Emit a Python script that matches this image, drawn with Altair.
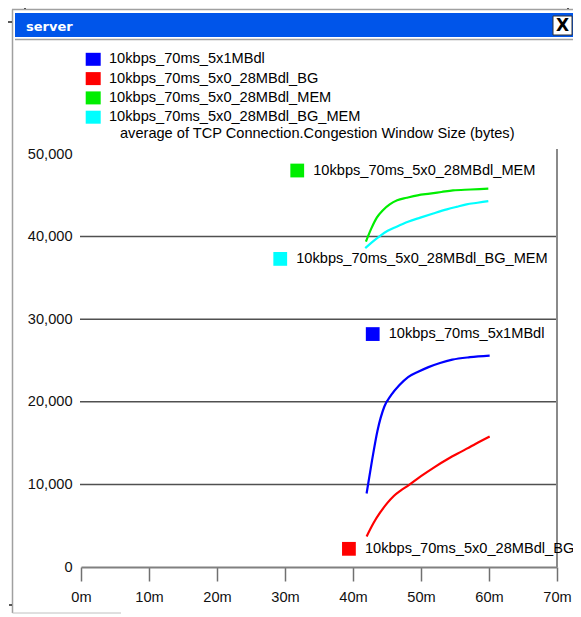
import altair as alt
import pandas as pd

# ---------------- data ----------------
series = [
    "10kbps_70ms_5x1MBdl",
    "10kbps_70ms_5x0_28MBdl_BG",
    "10kbps_70ms_5x0_28MBdl_MEM",
    "10kbps_70ms_5x0_28MBdl_BG_MEM",
]
colors = ["#0000ff", "#ff0000", "#00ee00", "#00ffff"]

blue_t = [42.0, 42.8, 43.6, 44.6, 45.6, 46.8, 48.1, 49.5, 51.1, 52.8, 54.6, 57.2, 60.1]
blue_v = [8900, 12900, 16500, 19400, 20800, 22000, 23000, 23600, 24200, 24700, 25100, 25400, 25600]

red_t = [42.0, 43.0, 44.0, 45.0, 46.0, 47.0, 48.0, 50.0, 52.0, 54.0, 56.0, 58.0, 60.1]
red_v = [3700, 5300, 6600, 7700, 8600, 9250, 9800, 11000, 12100, 13100, 14000, 14900, 15800]

green_t = [41.9, 42.7, 43.5, 44.4, 45.4, 46.5, 47.9, 49.5, 51.3, 53.0, 54.7, 57.3, 59.9]
green_v = [39400, 41000, 42300, 43200, 43900, 44400, 44700, 45000, 45200, 45400, 45600, 45700, 45800]

cyan_t = [41.8, 42.9, 44.0, 45.1, 46.4, 48.1, 49.9, 51.8, 53.8, 55.2, 56.7, 58.3, 59.9]
cyan_v = [38600, 39400, 40100, 40700, 41200, 41800, 42300, 42800, 43300, 43600, 43900, 44100, 44300]

x_ticks = [0, 10, 20, 30, 40, 50, 60, 70]
y_ticks = [0, 10000, 20000, 30000, 40000, 50000]
grid_values = [10000, 20000, 30000, 40000]

# inline label anchors (data coordinates: minutes, bytes)
label_t = [42.9, 39.4, 31.8, 29.3]
label_v = [28200, 2200, 48000, 37300]

window_title = "server"
close_glyph = "X"
y_title = "average of TCP Connection.Congestion Window Size (bytes)"

# ---------------- tables ----------------
frames = []
for name, ts, vs in zip(series, [blue_t, red_t, green_t, cyan_t], [blue_v, red_v, green_v, cyan_v]):
    frames.append(pd.DataFrame({"series": name, "t": ts, "v": vs}))
lines_df = pd.concat(frames, ignore_index=True)
grid_df = pd.DataFrame({"v": grid_values})
labels_df = pd.DataFrame({"series": series, "t": label_t, "v": label_v})
one = pd.DataFrame({"k": [0]})

FONT = "Liberation Sans"
FS = 14.6
W, H = 476, 413

xenc = alt.X(
    "t:Q",
    scale=alt.Scale(domain=[0, 70], nice=False, zero=False),
    axis=alt.Axis(
        values=x_ticks, labelExpr="datum.value + 'm'", grid=False, title=None,
        domainColor="#808080", domainWidth=2, tickColor="#707070", tickWidth=1.5,
        tickSize=14, labelFont=FONT, labelFontSize=FS, labelColor="#111111",
        labelPadding=8, labelFlush=False,
    ),
)
yenc = alt.Y(
    "v:Q",
    scale=alt.Scale(domain=[0, 50000], nice=False),
    axis=alt.Axis(
        values=y_ticks, labelExpr="format(datum.value, ',.0f')", grid=False,
        domain=False, ticks=False, title=None,
        labelFont=FONT, labelFontSize=FS, labelColor="#111111", labelPadding=9,
        labelFlush=False,
    ),
)
cenc = alt.Color("series:N", scale=alt.Scale(domain=series, range=colors), legend=None)

grid = alt.Chart(grid_df).mark_rule(color="#505050", strokeWidth=1.5).encode(
    y=yenc, x=alt.value(-1), x2=alt.value(W)
)
lines = alt.Chart(lines_df).mark_line(strokeWidth=2.2, interpolate="monotone").encode(
    x=xenc, y=yenc, color=cenc, detail="series:N"
)
lab_sq = alt.Chart(labels_df).mark_square(size=190, opacity=1).encode(
    x=xenc, y=yenc, color=cenc
)
lab_tx = alt.Chart(labels_df).mark_text(
    align="left", baseline="middle", dx=16, font=FONT, fontSize=FS, color="#000000"
).encode(x=xenc, y=yenc, text="series:N")

# plot right border
rborder = alt.Chart(one).mark_rule(color="#8a8a8a", strokeWidth=2).encode(
    x=alt.value(W), y=alt.value(-5), y2=alt.value(H)
)

# window chrome (plot-relative pixels; plot origin at page (81,154))
deco = []
deco.append(alt.Chart(one).mark_rect(color="#0055ea").encode(
    x=alt.value(-66), x2=alt.value(500), y=alt.value(-141), y2=alt.value(-117)))
deco.append(alt.Chart(one).mark_rule(color="#a0a0a0", strokeWidth=1.5).encode(
    x=alt.value(-69), x2=alt.value(500), y=alt.value(-144.5)))
deco.append(alt.Chart(one).mark_rule(color="#a0a0a0", strokeWidth=1.5).encode(
    x=alt.value(-66), x2=alt.value(500), y=alt.value(-114.5)))
deco.append(alt.Chart(one).mark_rule(color="#a0a0a0", strokeWidth=1.5).encode(
    x=alt.value(-68.5), y=alt.value(-144.5), y2=alt.value(459)))
deco.append(alt.Chart(one).mark_rule(color="#c0c0c0", strokeWidth=1).encode(
    x=alt.value(-68.5), x2=alt.value(40), y=alt.value(459)))
# little frame ticks
deco.append(alt.Chart(one).mark_rule(color="#222222", strokeWidth=1.5).encode(
    x=alt.value(-56), y=alt.value(-150), y2=alt.value(-145)))
deco.append(alt.Chart(one).mark_rule(color="#222222", strokeWidth=1.5).encode(
    x=alt.value(487), y=alt.value(-150), y2=alt.value(-145)))
deco.append(alt.Chart(one).mark_rule(color="#222222", strokeWidth=1.5).encode(
    x=alt.value(-73), x2=alt.value(-69), y=alt.value(-132)))
deco.append(alt.Chart(one).mark_rule(color="#222222", strokeWidth=1.5).encode(
    x=alt.value(-72), x2=alt.value(-69), y=alt.value(451)))
# close button
deco.append(alt.Chart(one).mark_rect(fill="#ffffff", stroke="#333333", strokeWidth=1).encode(
    x=alt.value(472), x2=alt.value(491), y=alt.value(-138), y2=alt.value(-119)))
deco.append(alt.Chart(one).mark_text(
    text=close_glyph, font="DejaVu Sans", fontSize=17, fontWeight="bold",
    color="#000000", align="center", baseline="middle").encode(
    x=alt.value(481.5), y=alt.value(-128)))
deco.append(alt.Chart(one).mark_text(
    text=window_title, font="DejaVu Sans", fontSize=13, fontWeight="bold",
    color="#ffffff", align="left", baseline="middle").encode(
    x=alt.value(-55), y=alt.value(-127)))

# top legend
legend_layers = []
for i, (name, col) in enumerate(zip(series, colors)):
    cy = -94.7 + 19.3 * i
    ldf = pd.DataFrame({"series": [name]})
    legend_layers.append(alt.Chart(ldf).mark_rect(color=col).encode(
        x=alt.value(4.7), x2=alt.value(19.7), y=alt.value(cy - 6.5), y2=alt.value(cy + 6.5)))
    legend_layers.append(alt.Chart(ldf).mark_text(
        align="left", baseline="middle", font=FONT, fontSize=FS, color="#000000").encode(
        x=alt.value(28), y=alt.value(cy), text="series:N"))
legend_layers.append(alt.Chart(one).mark_text(
    text=y_title, align="left", baseline="middle", font=FONT, fontSize=FS,
    color="#000000").encode(x=alt.value(39), y=alt.value(-20)))

chart = alt.layer(
    *deco, grid, rborder, lines, lab_sq, lab_tx, *legend_layers
).resolve_scale(color="shared").properties(
    width=W, height=H,
    autosize=alt.AutoSizeParams(type="none"),
    padding={"left": 73, "top": 146, "right": 16, "bottom": 47},
    background="#ffffff",
).configure_view(stroke=None)

chart.save("out.html", embed_options={"renderer": "svg", "actions": False})
